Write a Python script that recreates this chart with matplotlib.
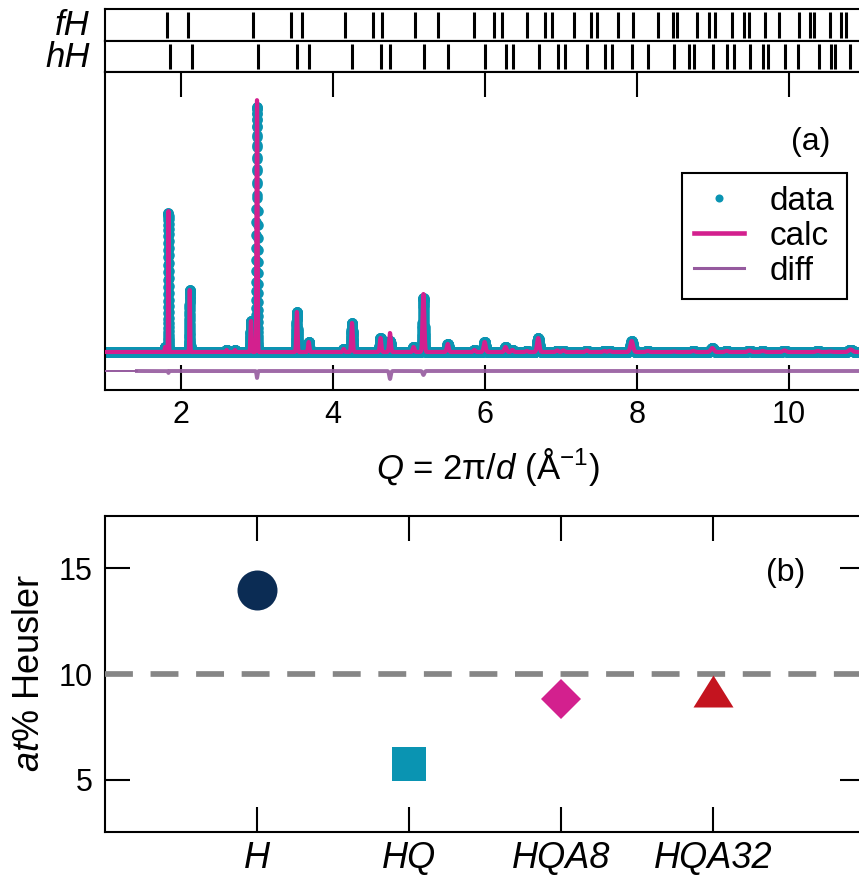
import numpy as np
import matplotlib
matplotlib.use("Agg")
import matplotlib.pyplot as plt
from matplotlib.lines import Line2D

plt.rcParams['font.family'] = ['Liberation Sans', 'DejaVu Sans']
plt.rcParams['mathtext.fontset'] = 'custom'
plt.rcParams['mathtext.rm'] = 'Liberation Sans'
plt.rcParams['mathtext.it'] = 'Liberation Sans:italic'
plt.rcParams['mathtext.bf'] = 'Liberation Sans:bold'

# reflection marks in the two rows above panel (a), Q in 1/A
fh_ticks = [1.811, 2.088, 2.943, 3.443, 3.592, 4.158, 4.522, 4.641, 5.079, 5.386,
            5.855, 6.118, 6.22, 6.55, 6.79, 6.88, 7.17, 7.39, 7.48, 7.75,
            7.95, 8.28, 8.47, 8.53, 8.79, 8.95, 9.03, 9.25, 9.41, 9.48,
            9.68, 9.87, 10.13, 10.28, 10.33, 10.54, 10.69, 10.75]
hh_ticks = [1.855, 2.140, 3.018, 3.530, 3.688, 4.254, 4.632, 4.75, 5.201, 5.517,
            6.0, 6.276, 6.37, 6.71, 6.96, 7.05, 7.346, 7.58, 7.67, 7.94,
            8.15, 8.487, 8.69, 8.75, 9.0, 9.19, 9.27, 9.487, 9.66, 9.72,
            9.947, 10.12, 10.39, 10.55, 10.61, 10.80]

# peaks of the pattern: position, observed height, fitted height (arb. units)
peak_q = [1.79, 1.835, 2.115, 2.60, 2.71, 2.92, 3.0, 3.525, 3.68, 4.14,
          4.25, 4.625, 4.75, 5.06, 5.19, 5.51, 5.86, 5.995, 6.27, 6.36,
          6.55, 6.70, 6.95, 7.03, 7.34, 7.57, 7.64, 7.93, 8.14, 8.48,
          8.74, 8.99, 9.18, 9.48, 9.65, 9.94, 10.38, 10.54, 10.81]
peak_obs = [5, 139, 62, 2, 2, 31, 245, 40, 10, 3,
            29, 14, 11, 5, 54, 8, 2, 10, 5, 2,
            1, 14, 1.5, 1.5, 1.5, 1, 1, 11, 1, 0.5,
            1, 4, 1, 1.5, 1, 1.5, 1, 0.5, 2.5]
peak_calc = [5, 141, 62, 2, 2, 31, 252, 40, 10, 3,
             29, 14, 19, 5, 58, 8, 2, 10, 5, 2,
             1, 14, 1.5, 1.5, 1.5, 1, 1, 11, 1, 0.5,
             1, 4, 1, 1.5, 1, 1.5, 1, 0.5, 2.5]
diff_offset = -19
fit_start = 1.42

# panel (b)
samples = ['H', 'HQ', 'HQA8', 'HQA32']
heusler_pct = [14.0, 5.75, 8.8, 9.2]
nominal_pct = 10

teal = '#0a94b2'
magenta = '#d3208e'
purple = '#955a9e'
navy = '#0b2c54'
red = '#c4141f'
grey = '#868686'


def profile(q, heights):
    y = np.zeros_like(q)
    for q0, h in zip(peak_q, heights):
        s = 0.0022 * q0
        y += h * np.exp(-0.5 * ((q - q0) / s) ** 2)
    return y


q = np.geomspace(1.0, 11.0, 12000)
obs = profile(q, peak_obs)
calc = profile(q, peak_calc)
diff = obs - calc + diff_offset

W, H = 859, 877
fig = plt.figure(figsize=(W / 100, H / 100), dpi=100)


def px_axes(x0, y0, x1, y1):
    return fig.add_axes([x0 / W, 1 - y1 / H, (x1 - x0) / W, (y1 - y0) / H])


ax_f = px_axes(105, 9, 865, 40.7)
ax_h = px_axes(105, 40.7, 865, 71.7)
ax = px_axes(105, 71.7, 865, 390)
ax_b = px_axes(105, 515.7, 865, 832.3)

for a in (ax_f, ax_h, ax, ax_b):
    for sp in a.spines.values():
        sp.set_linewidth(1.5)

# reflection rows
for a, ticks, name in ((ax_f, fh_ticks, 'fH'), (ax_h, hh_ticks, 'hH')):
    a.set_xlim(1, 11)
    a.set_ylim(0, 1)
    a.vlines(ticks, 0.1, 0.9, color='black', lw=2.2)
    a.set_xticks([])
    a.set_yticks([])
    a.text(-0.02, 0.47, name, transform=a.transAxes, ha='right', va='center',
           fontsize=25, style='italic')

# panel (a)
ax.plot(q, obs, 'o', color=teal, ms=7.6, mew=0, zorder=2)
ax.plot(q, calc, '-', color=magenta, lw=3.0, zorder=3)
pre = q < fit_start
ax.plot(q[pre], diff[pre], '-', color=purple, lw=1.4, zorder=3)
ax.plot(q[~pre], diff[~pre], '-', color=purple, lw=2.8, alpha=0.9, zorder=3)

ax.set_xlim(1, 11)
ax.set_ylim(-38, 280.3)
ax.set_xticks([2, 4, 6, 8, 10])
ax.tick_params(axis='x', direction='in', length=18, width=1.5, top=True,
               bottom=True, labelsize=22, pad=7)
ax.tick_params(axis='y', left=False, labelleft=False)
ax.text(0.928, 0.779, '(a)', transform=ax.transAxes, ha='center', va='center',
        fontsize=23)

handles = [Line2D([], [], ls='none', marker='o', ms=5.8, mew=0, color=teal),
           Line2D([], [], color=magenta, lw=3.3),
           Line2D([], [], color=purple, lw=2.2)]
leg = ax.legend(handles, ['data', 'calc', 'diff'], loc='upper right',
                bbox_to_anchor=(0.976, 0.682), borderaxespad=0, fontsize=24,
                frameon=True, fancybox=False, framealpha=1, edgecolor='black',
                borderpad=0.38, labelspacing=0.12, handlelength=1.5,
                handletextpad=0.75)
leg.get_frame().set_linewidth(1.5)

fig.text(488 / W, 1 - 467 / H, r'$Q$ = 2π/$d$ (Å$^{-1}$)', ha='center',
         va='center', fontsize=25)

# panel (b)
xs = np.arange(1, len(samples) + 1)
styles = [('o', navy, 28.8), ('s', teal, 24.5), ('D', magenta, 20.0),
          ([(0, 0.8), (-1, -0.8), (1, -0.8)], red, 28.8)]
for x, v, (m, c, s) in zip(xs, heusler_pct, styles):
    ax_b.plot(x, v, ls='none', marker=m, color=c, ms=s, mew=0, zorder=4)
ax_b.axhline(nominal_pct, color=grey, lw=4.1, ls=(0, (4.9, 3.1)), zorder=3)

ax_b.set_xlim(0, 5)
ax_b.set_ylim(2.5, 17.5)
ax_b.set_xticks(xs)
ax_b.set_yticks([5, 10, 15])
ax_b.tick_params(axis='both', direction='in', length=18, width=1.5,
                 top=True, bottom=True, left=True, right=True)
ax_b.tick_params(axis='x', pad=6, labelsize=26)
ax_b.tick_params(axis='y', pad=9, labelsize=22)
ax_b.set_xticklabels(samples, style='italic')
ax_b.text(0.895, 0.819, '(b)', transform=ax_b.transAxes, ha='center',
          va='center', fontsize=23)
fig.text(30 / W, 1 - 673 / H, r'$\it{at\%}$ Heusler', rotation=90,
         ha='center', va='center', fontsize=26)

fig.savefig('out.png', dpi=100)
